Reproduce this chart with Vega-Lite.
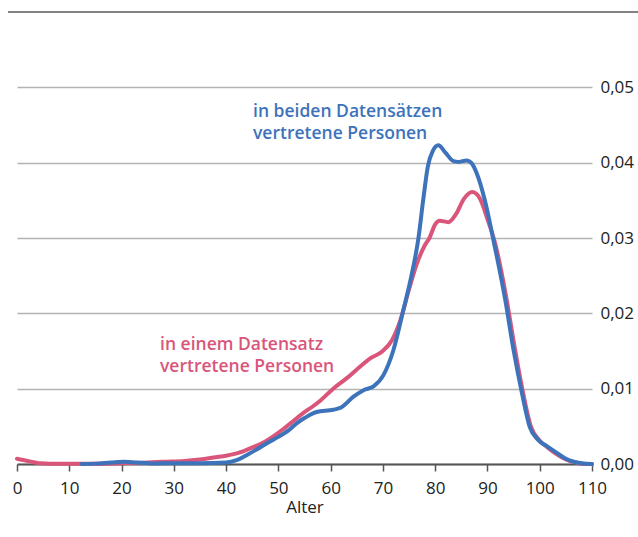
{
  "$schema": "https://vega.github.io/schema/vega-lite/v6.json",
  "width": 575,
  "height": 452,
  "autosize": "none",
  "padding": {"left": 17, "top": 12, "right": 46, "bottom": 73},
  "config": {"view": {"stroke": null}, "font": "Open Sans"},
  "datasets": {
    "curves": [
      {"serie": "einem", "alter": 0, "dichte": 0.0007},
      {"serie": "einem", "alter": 2, "dichte": 0.0004},
      {"serie": "einem", "alter": 4.5, "dichte": 0.0001},
      {"serie": "einem", "alter": 8, "dichte": 0.00002},
      {"serie": "einem", "alter": 15, "dichte": 0.00002},
      {"serie": "einem", "alter": 20, "dichte": 0.0001},
      {"serie": "einem", "alter": 25, "dichte": 0.0002},
      {"serie": "einem", "alter": 28, "dichte": 0.0003},
      {"serie": "einem", "alter": 32, "dichte": 0.0004},
      {"serie": "einem", "alter": 35, "dichte": 0.0006},
      {"serie": "einem", "alter": 38, "dichte": 0.0009},
      {"serie": "einem", "alter": 40, "dichte": 0.0011},
      {"serie": "einem", "alter": 42.5, "dichte": 0.0015},
      {"serie": "einem", "alter": 45, "dichte": 0.0022},
      {"serie": "einem", "alter": 47.5, "dichte": 0.003},
      {"serie": "einem", "alter": 50.3, "dichte": 0.0043},
      {"serie": "einem", "alter": 52.5, "dichte": 0.0055},
      {"serie": "einem", "alter": 54.8, "dichte": 0.0068},
      {"serie": "einem", "alter": 56.5, "dichte": 0.0076},
      {"serie": "einem", "alter": 58, "dichte": 0.0084},
      {"serie": "einem", "alter": 60.5, "dichte": 0.01},
      {"serie": "einem", "alter": 63.1, "dichte": 0.0114},
      {"serie": "einem", "alter": 65.6, "dichte": 0.0129},
      {"serie": "einem", "alter": 67.5, "dichte": 0.014},
      {"serie": "einem", "alter": 69.8, "dichte": 0.0149},
      {"serie": "einem", "alter": 71.7, "dichte": 0.0164},
      {"serie": "einem", "alter": 73.3, "dichte": 0.019},
      {"serie": "einem", "alter": 75, "dichte": 0.0232},
      {"serie": "einem", "alter": 76.5, "dichte": 0.0266},
      {"serie": "einem", "alter": 78, "dichte": 0.029},
      {"serie": "einem", "alter": 78.9, "dichte": 0.03},
      {"serie": "einem", "alter": 80, "dichte": 0.0318},
      {"serie": "einem", "alter": 80.8, "dichte": 0.0323},
      {"serie": "einem", "alter": 82.5, "dichte": 0.0321},
      {"serie": "einem", "alter": 84, "dichte": 0.0332},
      {"serie": "einem", "alter": 85.5, "dichte": 0.0352},
      {"serie": "einem", "alter": 87.1, "dichte": 0.0361},
      {"serie": "einem", "alter": 88.5, "dichte": 0.0353},
      {"serie": "einem", "alter": 90, "dichte": 0.0325},
      {"serie": "einem", "alter": 91.5, "dichte": 0.0292},
      {"serie": "einem", "alter": 93.5, "dichte": 0.0225},
      {"serie": "einem", "alter": 95.2, "dichte": 0.0155},
      {"serie": "einem", "alter": 96.8, "dichte": 0.0095},
      {"serie": "einem", "alter": 98.3, "dichte": 0.005},
      {"serie": "einem", "alter": 100, "dichte": 0.0031},
      {"serie": "einem", "alter": 101.5, "dichte": 0.0022},
      {"serie": "einem", "alter": 103, "dichte": 0.0014},
      {"serie": "einem", "alter": 105, "dichte": 0.0006},
      {"serie": "einem", "alter": 107, "dichte": 0.0002},
      {"serie": "einem", "alter": 108.5, "dichte": 0.0},
      {"serie": "einem", "alter": 110, "dichte": 0.0},
      {"serie": "beiden", "alter": 12.4, "dichte": 0},
      {"serie": "beiden", "alter": 15, "dichte": 0.00005},
      {"serie": "beiden", "alter": 18, "dichte": 0.0002},
      {"serie": "beiden", "alter": 20.5, "dichte": 0.0003},
      {"serie": "beiden", "alter": 23, "dichte": 0.0002},
      {"serie": "beiden", "alter": 26, "dichte": 0.00008},
      {"serie": "beiden", "alter": 30, "dichte": 0.0001},
      {"serie": "beiden", "alter": 35, "dichte": 0.0001},
      {"serie": "beiden", "alter": 40, "dichte": 0.0002},
      {"serie": "beiden", "alter": 42, "dichte": 0.0005},
      {"serie": "beiden", "alter": 44, "dichte": 0.0012},
      {"serie": "beiden", "alter": 46, "dichte": 0.002},
      {"serie": "beiden", "alter": 48.4, "dichte": 0.003},
      {"serie": "beiden", "alter": 50, "dichte": 0.0036},
      {"serie": "beiden", "alter": 52, "dichte": 0.0045},
      {"serie": "beiden", "alter": 53.5, "dichte": 0.0054},
      {"serie": "beiden", "alter": 55, "dichte": 0.0061},
      {"serie": "beiden", "alter": 57.3, "dichte": 0.0069},
      {"serie": "beiden", "alter": 60.5, "dichte": 0.0072},
      {"serie": "beiden", "alter": 62, "dichte": 0.0075},
      {"serie": "beiden", "alter": 64.3, "dichte": 0.0089},
      {"serie": "beiden", "alter": 66.3, "dichte": 0.0098},
      {"serie": "beiden", "alter": 68.2, "dichte": 0.0103},
      {"serie": "beiden", "alter": 70.1, "dichte": 0.0118},
      {"serie": "beiden", "alter": 72, "dichte": 0.0151},
      {"serie": "beiden", "alter": 73.9, "dichte": 0.0204},
      {"serie": "beiden", "alter": 75.3, "dichte": 0.0245},
      {"serie": "beiden", "alter": 76.8, "dichte": 0.03},
      {"serie": "beiden", "alter": 77.7, "dichte": 0.035},
      {"serie": "beiden", "alter": 78.6, "dichte": 0.0395},
      {"serie": "beiden", "alter": 79.5, "dichte": 0.0415},
      {"serie": "beiden", "alter": 80.6, "dichte": 0.0423},
      {"serie": "beiden", "alter": 82, "dichte": 0.0413},
      {"serie": "beiden", "alter": 83.5, "dichte": 0.0402},
      {"serie": "beiden", "alter": 84.5, "dichte": 0.0401},
      {"serie": "beiden", "alter": 86, "dichte": 0.0403},
      {"serie": "beiden", "alter": 87, "dichte": 0.0399},
      {"serie": "beiden", "alter": 88, "dichte": 0.0385},
      {"serie": "beiden", "alter": 89.5, "dichte": 0.035},
      {"serie": "beiden", "alter": 91, "dichte": 0.0302},
      {"serie": "beiden", "alter": 93.4, "dichte": 0.0218},
      {"serie": "beiden", "alter": 95, "dichte": 0.0151},
      {"serie": "beiden", "alter": 96.6, "dichte": 0.0094},
      {"serie": "beiden", "alter": 98.1, "dichte": 0.0049},
      {"serie": "beiden", "alter": 99.7, "dichte": 0.0032},
      {"serie": "beiden", "alter": 101.5, "dichte": 0.0023},
      {"serie": "beiden", "alter": 103.2, "dichte": 0.0015},
      {"serie": "beiden", "alter": 105, "dichte": 0.0007},
      {"serie": "beiden", "alter": 106.5, "dichte": 0.0003},
      {"serie": "beiden", "alter": 108, "dichte": 0.0001},
      {"serie": "beiden", "alter": 110, "dichte": 0}
    ],
    "labels": [
      {"serie": "beiden", "alter": 45.15, "dichte": 0.04668, "text": ["in beiden Datensätzen", "vertretene Personen"]},
      {"serie": "einem", "alter": 27.36, "dichte": 0.01578, "text": ["in einem Datensatz", "vertretene Personen"]}
    ],
    "top": [{"a": -1.72, "b": 118.8, "y": 0.06}]
  },
  "layer": [
    {
      "data": {"name": "top"},
      "mark": {"type": "rule", "color": "#5a5a5a", "strokeWidth": 1.6, "clip": false},
      "encoding": {
        "x": {"field": "a", "type": "quantitative", "scale": {"domain": [0, 110]}},
        "x2": {"field": "b"},
        "y": {"field": "y", "type": "quantitative", "scale": {"domain": [0, 0.06]}}
      }
    },
    {
      "data": {"name": "curves"},
      "mark": {"type": "line", "interpolate": "monotone", "strokeWidth": 4, "strokeCap": "round", "strokeJoin": "round"},
      "encoding": {
        "x": {
          "field": "alter", "type": "quantitative",
          "scale": {"domain": [0, 110], "nice": false, "zero": false},
          "axis": {
            "values": [0, 10, 20, 30, 40, 50, 60, 70, 80, 90, 100, 110],
            "title": "Alter", "titleFontSize": 17, "titleFontWeight": "normal", "titleColor": "#222",
            "titlePadding": 3,
            "grid": false, "domainColor": "#555", "domainWidth": 2,
            "tickColor": "#555", "tickSize": 7, "tickWidth": 1.5,
            "labelFontSize": 17, "labelColor": "#222", "labelPadding": 9,
            "labelFlush": false
          }
        },
        "y": {
          "field": "dichte", "type": "quantitative",
          "scale": {"domain": [0, 0.06], "nice": false},
          "axis": {
            "orient": "right",
            "values": [0, 0.01, 0.02, 0.03, 0.04, 0.05],
            "labelExpr": "replace(format(datum.value, '.2f'), '.', ',')",
            "title": null, "domain": false, "ticks": false,
            "grid": true, "gridColor": "#b3b3b3", "gridWidth": 1.5,
            "labelFontSize": 17, "labelColor": "#222", "labelPadding": 8
          }
        },
        "color": {
          "field": "serie", "type": "nominal",
          "scale": {"domain": ["einem", "beiden"], "range": ["#d9567a", "#3d73bb"]},
          "legend": null
        },
        "order": {"field": "alter", "type": "quantitative"}
      }
    },
    {
      "data": {"name": "labels"},
      "mark": {"type": "text", "align": "left", "baseline": "middle", "fontSize": 17.5, "fontWeight": 600, "font": "Open Sans", "lineHeight": 22},
      "encoding": {
        "x": {"field": "alter", "type": "quantitative"},
        "y": {"field": "dichte", "type": "quantitative"},
        "text": {"field": "text"},
        "color": {"field": "serie", "type": "nominal", "legend": null}
      }
    }
  ]
}
